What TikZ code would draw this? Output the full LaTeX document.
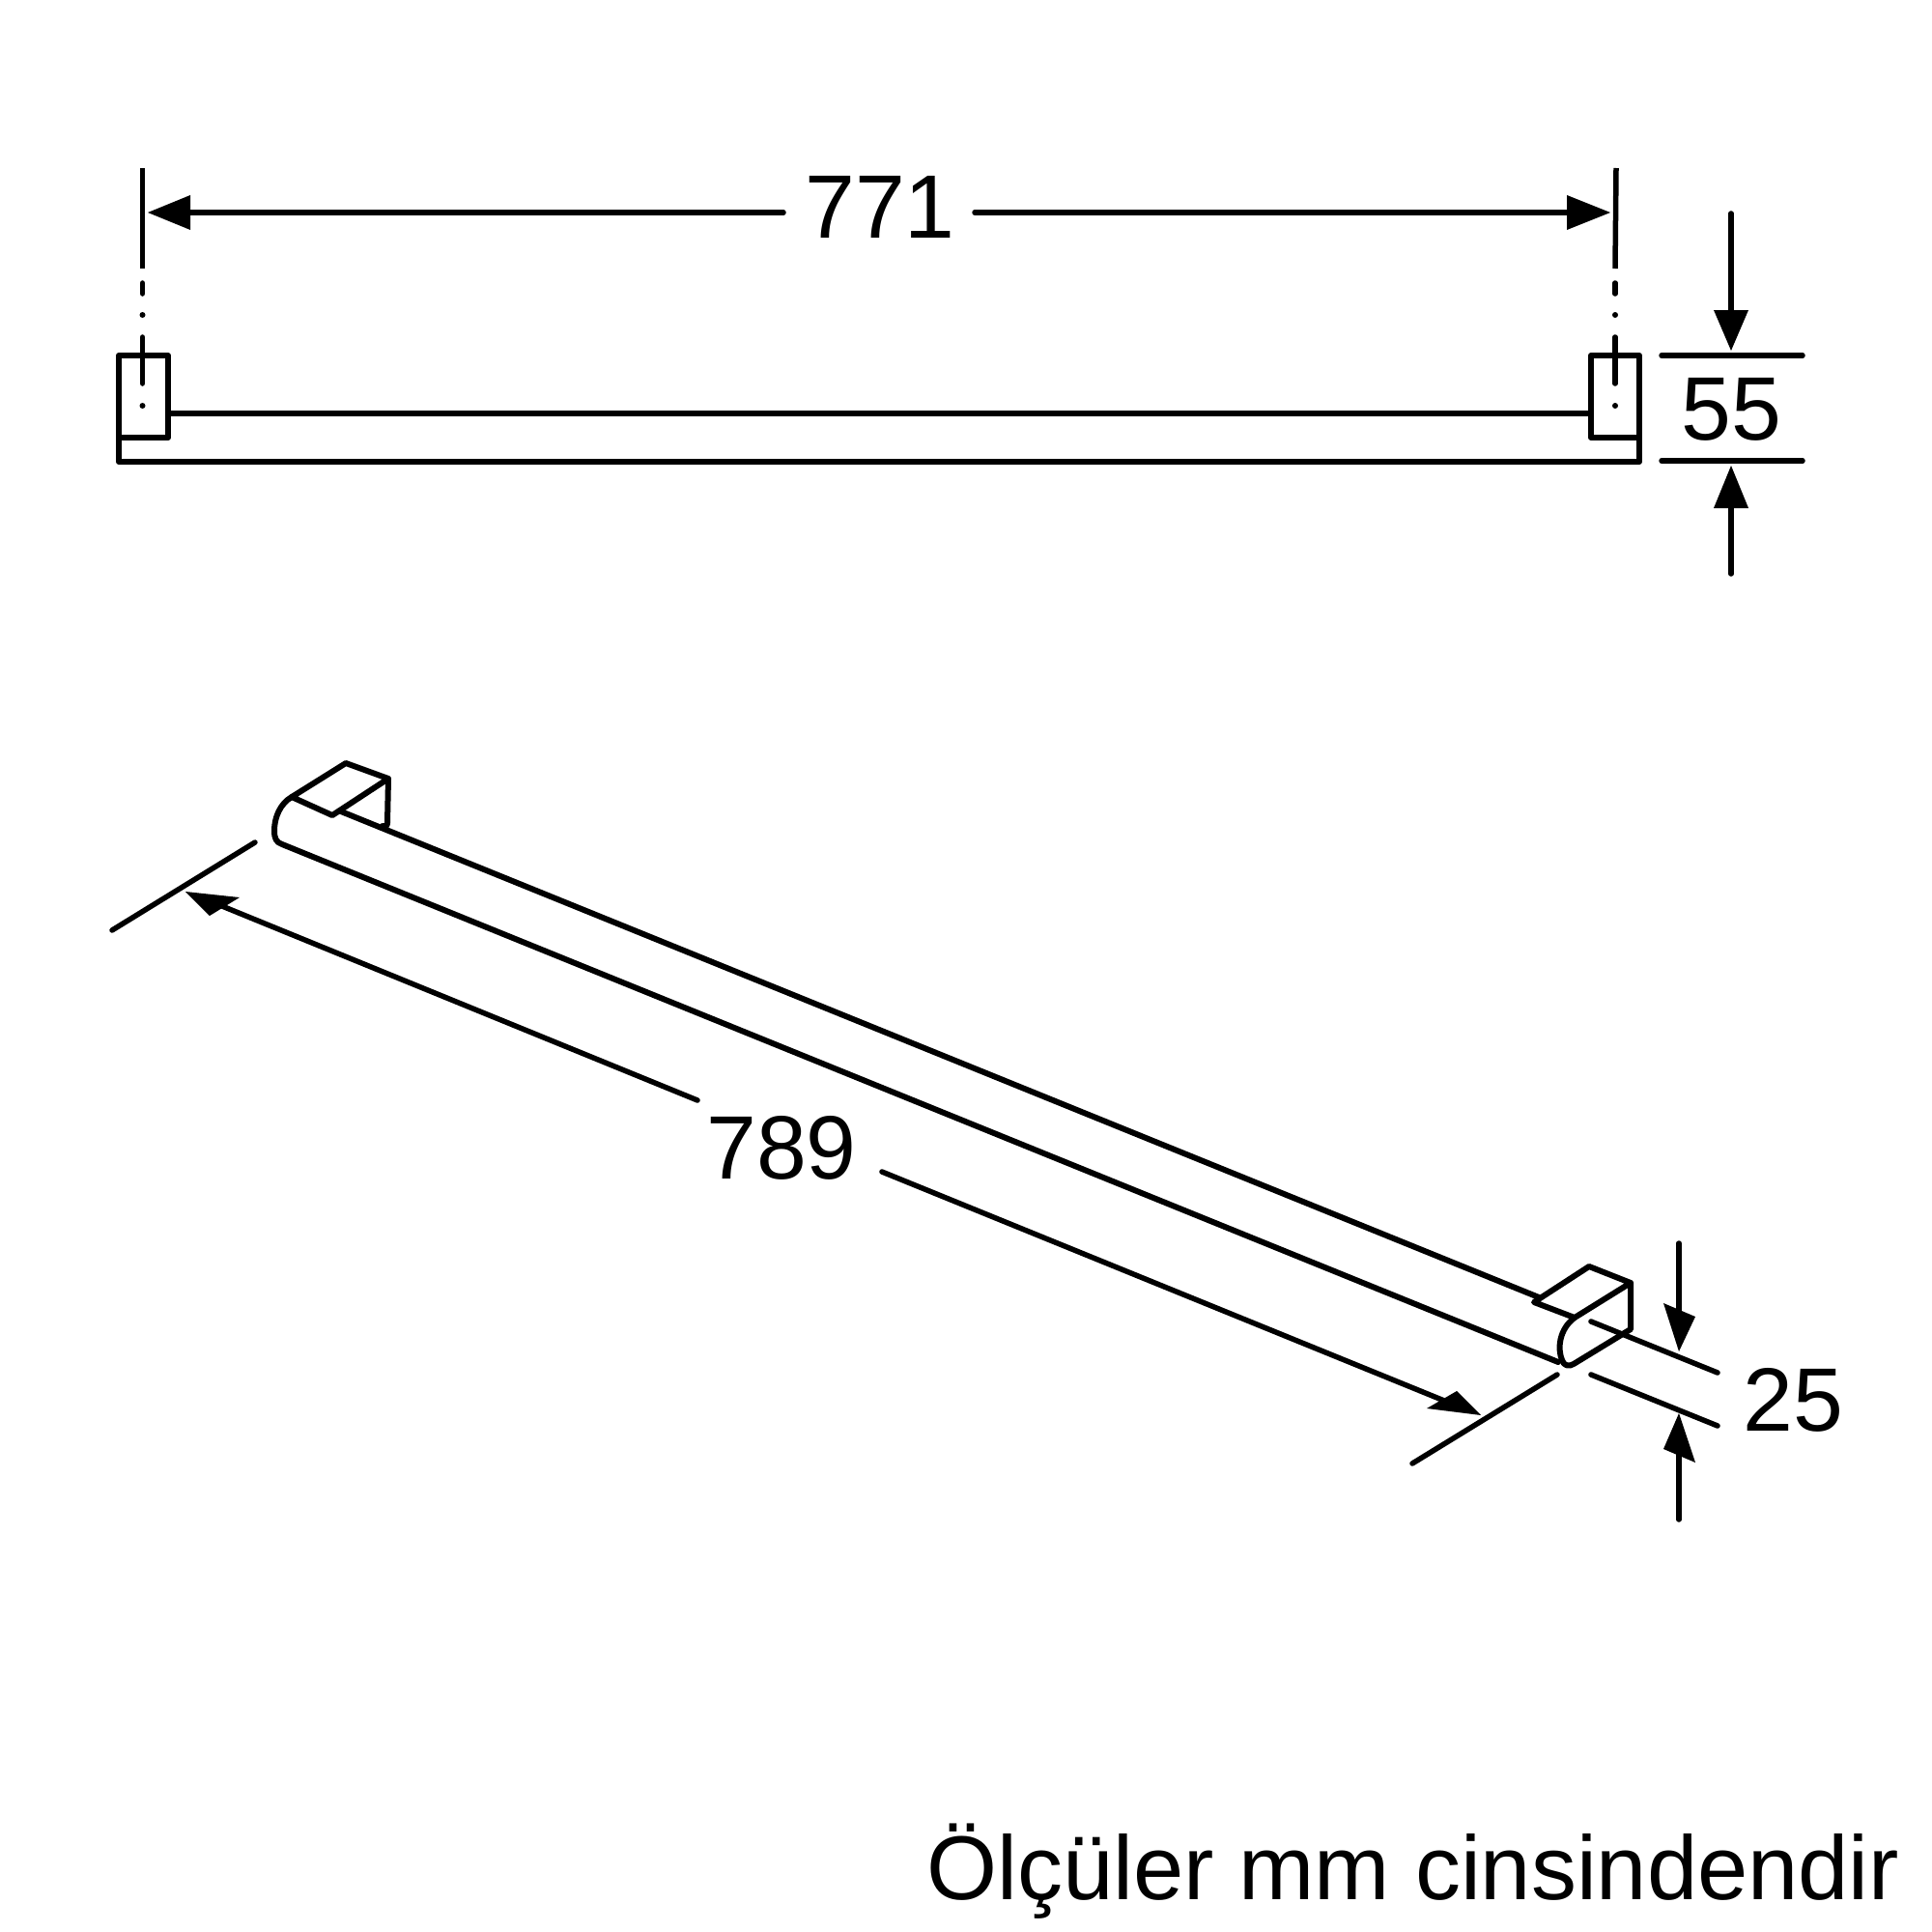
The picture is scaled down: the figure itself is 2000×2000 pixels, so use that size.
\documentclass[tikz,border=0pt]{standalone}
\usepackage{fontspec}
\setmainfont{Liberation Sans}
\usetikzlibrary{calc}
\tikzset{
	part/.style={line width=0.6mm, line cap=round, line join=round},
	dimline/.style={line width=0.55mm, line cap=round},
	dimtip/.style={fill=black, draw=none},
	dimtext/.style={anchor=base, inner sep=0pt, font=\fontsize{26.5}{30}\selectfont},
	notetext/.style={anchor=base east, inner sep=0pt, font=\fontsize{26.7}{30}\selectfont}
}
\def\axisdot(#1){\fill (#1) circle (3);}

\begin{document}
\begin{tikzpicture}[x=0.01cm, y=-0.01cm]
		%%%%% START %%%%%
		\useasboundingbox (0, 0) rectangle (2000, 2000);
		
		% front view
		\draw[part] (123, 428) -- (123, 478) -- (1697, 478) -- (1697, 428);
		\draw[part] (174, 428) -- (1647, 428);
		\draw[part, fill=white] (123, 368) rectangle (174, 453);
		\draw[part, fill=white] (1647, 368) rectangle (1697, 453);
		
		% centre lines
		\draw[line width=0.55mm] (147.5, 174) -- (147.5, 278);
		\draw[dimline] (147.5, 293) -- (147.5, 304);
		\axisdot(147.5, 326)
		\draw[dimline] (147.5, 349) -- (147.5, 397);
		\axisdot(147.5, 420)
		\draw[line width=0.55mm] (1673, 174) -- (1672, 278);
		\draw[dimline] (1672, 293) -- (1672, 304);
		\axisdot(1672, 326)
		\draw[dimline] (1672, 349) -- (1672, 397);
		\axisdot(1672, 420)
		
		% 771
		\node[dimtext] (width) at (911, 246) {771};
		\coordinate (widthA) at (153, 220);
		\coordinate (widthB) at (1667, 220);
		\draw[dimline] (190, 220) -- (811, 220);
		\draw[dimline] (1009, 220) -- (1630, 220);
		\fill[dimtip] (widthA) -- (197, 202) -- (197, 238) -- cycle;
		\fill[dimtip] (widthB) -- (1622, 202) -- (1622, 238) -- cycle;
		
		% 55
		\node[dimtext] (depth) at (1792, 455) {55};
		\coordinate (depthA) at (1792, 363);
		\coordinate (depthB) at (1792, 482);
		\draw[dimline] (1720, 368) -- (1866, 368);
		\draw[dimline] (1720, 477) -- (1866, 477);
		\draw[dimline] (1792, 221) -- (1792, 328);
		\draw[dimline] (1792, 520) -- (1792, 594);
		\fill[dimtip] (depthA) -- (1774, 321) -- (1810, 321) -- cycle;
		\fill[dimtip] (depthB) -- (1774, 526) -- (1810, 526) -- cycle;
		
		% bar, left end
		\draw[part] (302, 825) -- (358, 790) -- (402, 806) -- (344, 844) -- cycle;
		\draw[part] (402, 806) -- (401, 852) .. controls (401, 855) and (399, 856) .. (396, 855);
		\draw[part] (353, 840) -- (1593, 1343);
		\draw[part] (302, 825) .. controls (290, 832) and (284, 846) .. (284, 860)
			.. controls (284, 868) and (286, 872) .. (292, 874) -- (1613, 1410);
		
		% bar, right end
		\draw[part] (1588, 1348) -- (1645, 1311) -- (1688, 1328) -- (1630, 1364) -- cycle;
		\draw[part] (1688, 1328) -- (1688, 1376) -- (1629, 1412)
			.. controls (1624, 1415) and (1619, 1414) .. (1617, 1408)
			.. controls (1612, 1396) and (1614, 1376) .. (1630, 1364);
		
		% 789
		\node[dimtext] (length) at (809, 1220) {789};
		\coordinate (lengthA) at (192, 923);
		\coordinate (lengthB) at (1533, 1465);
		\draw[dimline] (116, 963) -- (264, 872);
		\draw[dimline] (1462, 1515) -- (1612, 1423);
		\draw[dimline] (225, 936) -- (722, 1139);
		\draw[dimline] (913, 1213) -- (1500, 1452);
		\fill[dimtip] (lengthA) -- (248, 929) -- (217, 948) -- cycle;
		\fill[dimtip] (lengthB) -- (1477, 1458) -- (1508, 1440) -- cycle;
		
		% 25
		\node[dimtext] (height) at (1856, 1481) {25};
		\coordinate (heightA) at (1738, 1399);
		\coordinate (heightB) at (1738, 1463);
		\draw[dimline] (1647, 1368) -- (1778, 1421);
		\draw[dimline] (1647, 1423) -- (1778, 1476);
		\draw[dimline] (1738, 1287) -- (1738, 1360);
		\draw[dimline] (1738, 1505) -- (1738, 1573);
		\fill[dimtip] (heightA) -- (1722, 1349) -- (1755, 1363) -- cycle;
		\fill[dimtip] (heightB) -- (1722, 1500) -- (1755, 1514) -- cycle;
		
		\node[notetext] (unit) at (1967, 1966) {Ölçüler mm cinsindendir};
		
		%%%%% END %%%%%
	\end{tikzpicture}
\end{document}
